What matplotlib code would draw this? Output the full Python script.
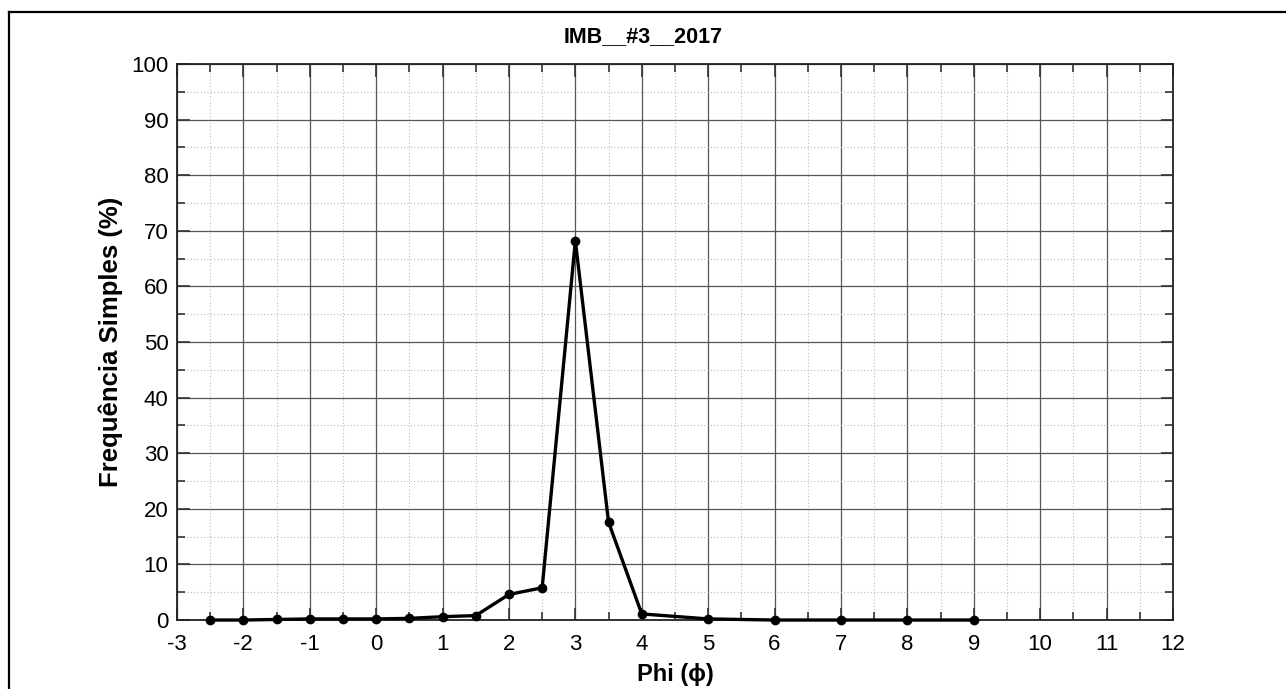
import matplotlib
matplotlib.use("Agg")
import matplotlib.pyplot as plt
from matplotlib.lines import Line2D
from matplotlib.ticker import MultipleLocator

# -----------------------------
# Data
# -----------------------------
phi = [-2.5, -2, -1.5, -1, -0.5, 0, 0.5, 1, 1.5, 2, 2.5, 3, 3.5, 4, 5, 6, 7, 8, 9]
freq = [0.0, 0.0, 0.1, 0.2, 0.2, 0.2, 0.3, 0.6, 0.8, 4.6, 5.8, 68.2, 17.6, 1.1, 0.2, 0.0, 0.0, 0.0, 0.0]
TITLE = "IMB__#3__2017"

plt.rcParams["font.family"] = ["Liberation Sans", "DejaVu Sans"]
plt.rcParams["axes.unicode_minus"] = False

fig = plt.figure(figsize=(12.86, 6.89), dpi=100)
ax = fig.add_axes([0.1376, 0.1001, 0.9121 - 0.1376, 0.9071 - 0.1001])

# outer frame (top and left only visible)
fig.add_artist(Line2D([9 / 1286, 9 / 1286], [0, 1 - 12 / 689], transform=fig.transFigure,
                      color="black", lw=1.6))
fig.add_artist(Line2D([9 / 1286, 1], [1 - 12 / 689, 1 - 12 / 689], transform=fig.transFigure,
                      color="black", lw=1.6))

ax.plot(phi, freq, color="black", lw=2.4, marker="o", markersize=6, zorder=5, clip_on=False)

ax.set_xlim(-3, 12)
ax.set_ylim(0, 100)
ax.xaxis.set_major_locator(MultipleLocator(1))
ax.xaxis.set_minor_locator(MultipleLocator(0.5))
ax.yaxis.set_major_locator(MultipleLocator(10))
ax.yaxis.set_minor_locator(MultipleLocator(5))

ax.grid(which="major", color="#555555", lw=0.9, ls="-")
ax.grid(which="minor", color="#bbbbbb", lw=0.8, ls=(0, (1, 2)))
ax.set_axisbelow(True)

ax.tick_params(which="both", direction="in", top=True, right=True, labelsize=16,
               color="#333333", width=1.2)
ax.tick_params(which="major", length=9)
ax.tick_params(axis="x", which="major", pad=10)
ax.tick_params(axis="y", which="major", pad=6)
ax.tick_params(which="minor", length=6)

for s in ax.spines.values():
    s.set_linewidth(1.3)
    s.set_color("#222222")

fig.text(0.5, 1 - 37 / 689, TITLE, ha="center", va="center", fontsize=15.5, fontweight="bold")
ax.set_ylabel("Frequência Simples (%)", fontsize=18.5, fontweight="bold", labelpad=6)
ax.set_xlabel("Phi (ϕ)", fontsize=17, fontweight="bold", labelpad=6)

fig.savefig("out.png", dpi=100)
